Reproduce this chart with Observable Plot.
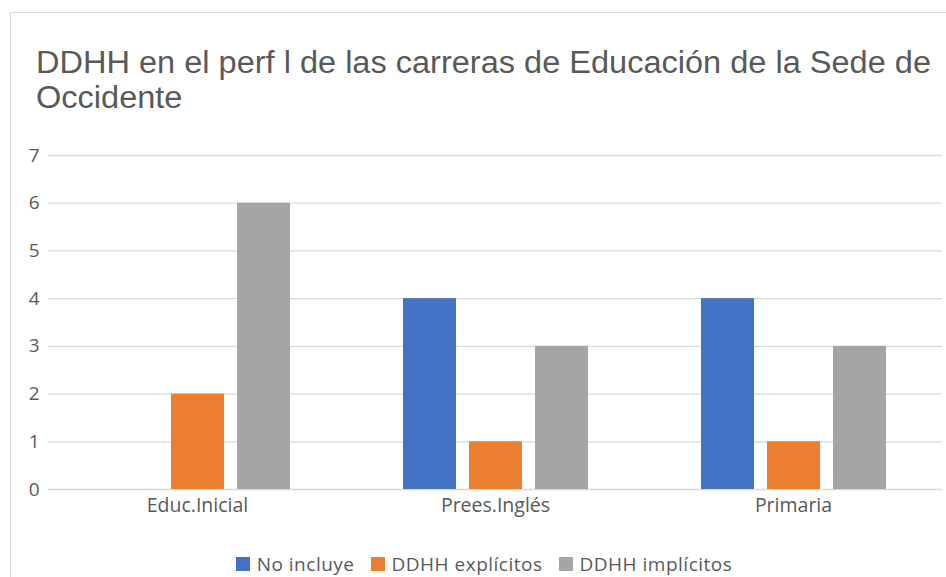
<!DOCTYPE html>
<html>
<head>
<meta charset="utf-8">
<script src="https://cdn.jsdelivr.net/npm/d3@7"></script>
<script src="https://cdn.jsdelivr.net/npm/@observablehq/plot@0.6"></script>
<style>
  html, body { margin:0; padding:0; background:#fff; }
  #wrap { position:relative; width:946px; height:577px; overflow:hidden; background:#fff; font-family:"Open Sans", sans-serif; color:#595959; }
  #frame { position:absolute; left:10px; top:12px; width:1000px; height:1000px; border-left:1px solid #d9d9d9; border-top:1px solid #d9d9d9; }
  #title { position:absolute; left:36px; top:45px; font-family:"Liberation Sans", Arial, sans-serif; font-size:31px; color:#595959; white-space:nowrap; transform-origin:0 0; }
  #title div { height:35px; line-height:35px; }
  #chart { position:absolute; left:0; top:140px; }
  #legend { position:absolute; left:0; width:968px; top:551px; display:flex; justify-content:center; gap:16px; font-size:19px; letter-spacing:0.5px; color:#595959; }
  .item { display:flex; align-items:center; gap:7px; }
  .sw { width:14px; height:14px; display:inline-block; }
</style>
</head>
<body>
<div id="wrap">
  <div id="frame"></div>
  <div id="title"><div><span id="t1">DDHH en el perf l de las carreras de Educación de la Sede de</span></div><div>Occidente</div></div>
  <div id="chart"></div>
  <div id="legend"></div>
</div>
<script>
const categories = ["Educ.Inicial", "Prees.Inglés", "Primaria"];
const series = ["No incluye", "DDHH explícitos", "DDHH implícitos"];
const noIncluye = [0, 4, 4];
const explicitos = [2, 1, 1];
const implicitos = [6, 3, 3];
const yTicks = [0, 1, 2, 3, 4, 5, 6, 7];
const colors = ["#4472C4", "#ED7D31", "#A5A5A5"];

const seriesValues = [noIncluye, explicitos, implicitos];
const data = categories.flatMap((c, i) => series.map((s, j) => ({category: c, series: s, value: seriesValues[j][i]})));

// fit title width by horizontal scaling
const t1 = document.getElementById("t1");
const titleEl = document.getElementById("title");
const w = t1.getBoundingClientRect().width;
titleEl.style.transform = "scaleX(" + (895 / w) + ")";

const chart = Plot.plot({
  width: 946,
  height: 390,
  marginTop: 15,
  marginBottom: 41,
  marginLeft: 47,
  marginRight: 4,
  style: {fontSize: "19px", fontFamily: "Open Sans, sans-serif", color: "#595959", background: "none", overflow: "visible"},
  fx: {domain: categories, padding: 0, label: null},
  x: {domain: series, paddingInner: 0.197, paddingOuter: 0.856, axis: null},
  y: {domain: [0, 7], label: null},
  color: {domain: series, range: colors},
  marks: [
    Plot.gridY(yTicks, {stroke: "#d9d9d9", strokeOpacity: 1, strokeWidth: 1.3}),
    Plot.barY(data, {fx: "category", x: "series", y: "value", fill: "series"}),
    Plot.axisY(yTicks, {tickSize: 0, tickPadding: 9, fill: "#595959", label: null}),
    Plot.axisFx({anchor: "bottom", tickSize: 0, tickPadding: 9, fill: "#595959", fontSize: 19.5, label: null})
  ]
});
document.getElementById("chart").appendChild(chart);

const legend = document.getElementById("legend");
series.forEach((s, j) => {
  const item = document.createElement("div");
  item.className = "item";
  const sw = document.createElement("span");
  sw.className = "sw";
  sw.style.background = colors[j];
  const tx = document.createElement("span");
  tx.textContent = s;
  item.appendChild(sw);
  item.appendChild(tx);
  legend.appendChild(item);
});
</script>
</body>
</html>
